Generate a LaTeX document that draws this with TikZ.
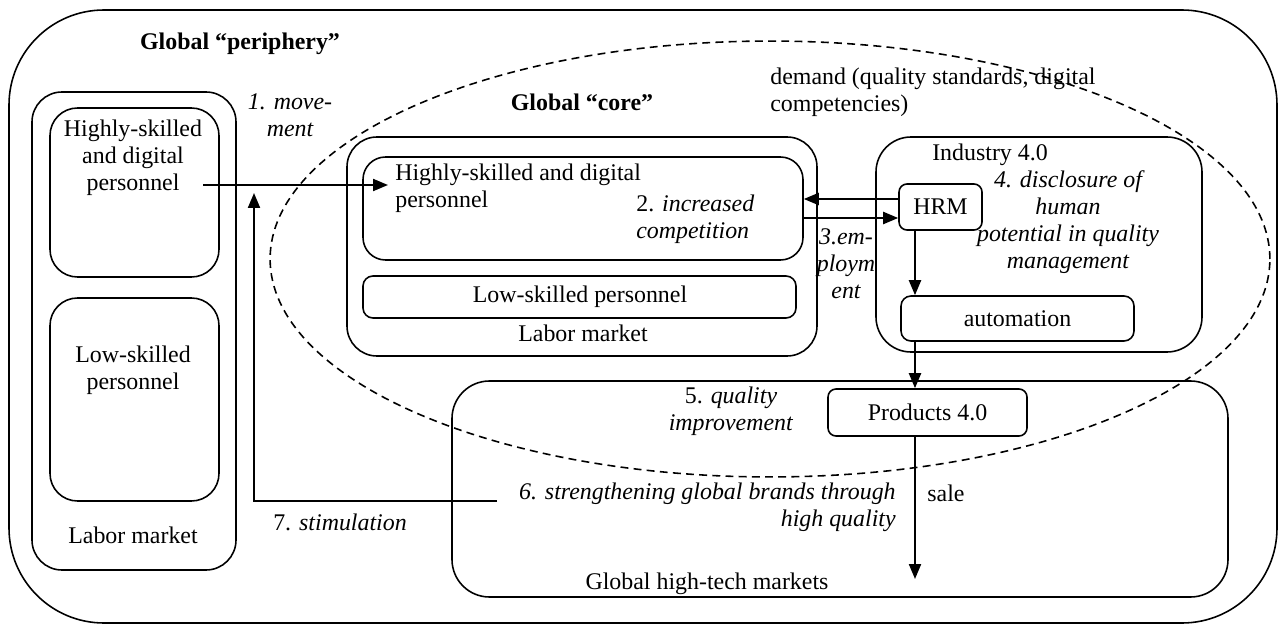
\documentclass[tikz,border=0pt]{standalone}
\usepackage{fontspec}
\setmainfont{Liberation Serif}
\usetikzlibrary{arrows.meta,fit,calc}
\begin{document}
\begin{tikzpicture}[x=0.02cm,y=-0.02cm,
  box/.style={draw, line width=0.9pt, inner sep=0pt, rounded corners=#1},
  box/.default=0.5cm,
  txt/.style={font=\fontsize{13.6}{15.3}\selectfont, inner sep=0pt, align=center},
  itx/.style={txt, font=\fontsize{13.6}{15.3}\selectfont\itshape},
  btx/.style={txt, font=\fontsize{13.6}{15.3}\selectfont\bfseries},
  arr/.style={line width=1.2pt, -{Triangle[length=0.3cm,width=0.24cm]}},
  ln/.style={line width=1.2pt},
  coreline/.style={line width=0.9pt, dash pattern=on 4.5pt off 3pt}]
\useasboundingbox (0,0) rectangle (1279,625);

% outer periphery
\node[box=1.9cm, fit={(9,10) (1277,623)}] (outer) {};
\node[btx] (periph) at (240,44) {Global “periphery”};

% left labor market
\node[box=0.6cm, fit={(32,92) (236,570)}] (llm) {};
\node[box=0.55cm, fit={(50,108) (219,277)}] (lhs) {};
\node[box=0.55cm, fit={(50,298) (219,501)}] (lls) {};
\node[txt] (lhstext) at (133,158) {Highly-skilled\\and digital\\personnel};
\node[txt] (llstext) at (133,370) {Low-skilled\\personnel};
\node[txt] (llmtext) at (133,535) {Labor market};
\node[itx] (move) at (290,115) {1. move-\\ment};

% global core ellipse
\draw[coreline] (770,259) ellipse [x radius=10cm, y radius=4.36cm];
\node[btx] (coretitle) at (582,102) {Global “core”};
\node[txt, align=left, anchor=west] (demand) at (770,92) {demand (quality standards, digital\\competencies)};

% core labor market
\node[box=0.6cm, fit={(347,137) (817,356)}] (clm) {};
\node[box=0.45cm, fit={(363,157) (803,260)}] (chs) {};
\node[box=0.2cm, fit={(363,276) (796,318)}] (cls) {};
\node[txt, align=left, anchor=west] (chstext) at (395,188) {Highly-skilled and digital\\personnel};
\node[txt, align=left, anchor=west, font=\fontsize{13.6}{15.3}\selectfont] (compet) at (636,219) {2. \textit{increased}\\\textit{competition}};
\node[txt] (clstext) at (580,297) {Low-skilled personnel};
\node[txt] (clmtext) at (583,333) {Labor market};

% industry 4.0
\node[box=0.7cm, fit={(876,137) (1202,352)}] (ind) {};
\node[txt] (indtext) at (990,155) {Industry 4.0};
\node[box=0.16cm, fit={(899,184) (982,230)}] (hrm) {};
\node[txt] at (hrm.center) {HRM};
\node[box=0.2cm, fit={(901,296) (1134,341)}] (auto) {};
\node[txt] at (auto.center) {automation};
\node[itx] (disc) at (1068,222) {4. disclosure of\\human\\potential in quality\\management};
\node[itx] (employ) at (846,264) {3.em-\\ploym\\ent};

% global high-tech markets
\node[box=0.75cm, fit={(452,381) (1228,597)}] (gm) {};
\node[box=0.16cm, fit={(828,389) (1027,436)}] (prod) {};
\node[txt] at (prod.center) {Products 4.0};
\node[txt, font=\fontsize{13.6}{15.3}\selectfont] (qual) at (731,411) {5. \textit{quality}\\\textit{improvement}};
\node[itx, align=right, anchor=east] (brands) at (896,507) {6. strengthening global brands through\\high quality};
\node[txt] (sale) at (946,493) {sale};
\node[txt] (gmtext) at (707,584) {Global high-tech markets};
\node[txt, font=\fontsize{13.6}{15.3}\selectfont] (stim) at (340,522) {7. \textit{stimulation}};

% connectors
\coordinate (m1) at (203,185);
\coordinate (m1e) at (388,185);
\draw[arr] (m1) -- (m1e);
\draw[arr] (hrm.west |- 0,199) -- (chs.east |- 0,199);
\draw[arr] (chs.east |- 0,218) -- (hrm.west |- 0,218);
\draw[arr] (hrm.south -| 915,0) -- (auto.north -| 915,0);
\draw[arr] (auto.south -| 915,0) -- (prod.north -| 915,0);
\coordinate (saleend) at (915,579);
\draw[arr] (prod.south -| 915,0) -- (saleend);
\coordinate (s0) at (497,501);
\coordinate (s1) at (254,501);
\coordinate (s2) at (254,193);
\draw[arr] (s0) -- (s1) -- (s2);
\end{tikzpicture}
\end{document}
